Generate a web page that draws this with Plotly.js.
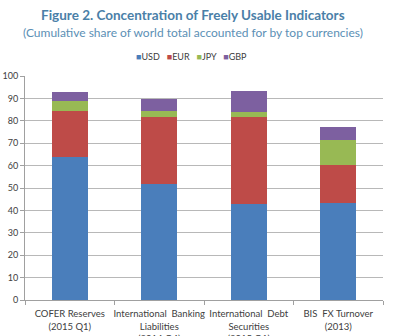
<!DOCTYPE html>
<html><head><meta charset="utf-8">
<script src="https://cdn.plot.ly/plotly-3.0.1.min.js"></script>
<style>body{margin:0;padding:0;background:#fff}#chart{width:393px;height:336px}</style>
</head><body><div id="chart"></div>
<script>
const categories = ["COFER Reserves<br>(2015 Q1)", "International  Banking<br>Liabilities<br>(2014 Q4)", "International  Debt<br>Securities<br>(2015 Q1)", "BIS  FX Turnover<br>(2013)"];
const usd = [64.0, 51.8, 42.9, 43.5];
const eur = [20.5, 29.7, 38.9, 16.6];
const jpy = [4.2, 3.0, 2.0, 11.3];
const gbp = [4.2, 5.4, 9.5, 6.0];
const seriesNames = ["USD", "EUR", "JPY", "GBP"];
const colors = ["#4a7ebb", "#be4b48", "#98b954", "#7d60a0"];
const yTicks = [0,10,20,30,40,50,60,70,80,90,100];

const vals = [usd, eur, jpy, gbp];
const traces = vals.map((v,i)=>({
  type:'bar', x:categories, y:v, name:seriesNames[i],
  marker:{color:colors[i], line:{width:0}}, hoverinfo:'none'
}));

const font = "Lato, Open Sans, sans-serif";
const H = 224; // plot height px
const py = px => 1 + (76 - px)/H; // convert page y pixel to paper coord

const legendText = seriesNames.map((n,i)=>'<span style="color:'+colors[i]+'">■</span>'+n).join('   ');

const layout = {
  width:393, height:336, barmode:'stack', bargap:0.6,
  margin:{l:25, r:10, t:76, b:36},
  paper_bgcolor:'#fff', plot_bgcolor:'#fff',
  font:{family:font, size:9, color:'#404040'},
  showlegend:false,
  xaxis:{type:'category', showgrid:false, showline:true, linecolor:'#a0a0a0', linewidth:1,
    ticks:'outside', tickson:'boundaries', ticklen:4, tickcolor:'#a0a0a0', tickangle:0,
    ticklabelstandoff:5,
    tickfont:{size:9.5, color:'#404040', family:font}, fixedrange:true},
  yaxis:{range:[0,100], tickvals:yTicks, ticktext:yTicks.map(String), showgrid:true, gridcolor:'#b8b8b8', gridwidth:1,
    showline:true, linecolor:'#a0a0a0', ticks:'outside', ticklen:4, tickcolor:'#a0a0a0',
    tickfont:{size:9, color:'#404040', family:font}, zeroline:false, fixedrange:true},
  annotations:[
    {text:'<b>Figure 2. Concentration of Freely Usable Indicators</b>', xref:'paper', yref:'paper', x:(193-25)/358.4, xanchor:'center',
     y:py(15), yanchor:'middle', showarrow:false, font:{size:13.5, color:'#4a80a8', family:font}},
    {text:'(Cumulative share of world total accounted for by top currencies)', xref:'paper', yref:'paper', x:(193-25)/358.4, xanchor:'center',
     y:py(33), yanchor:'middle', showarrow:false, font:{size:12, color:'#5b8fb5', family:font}},
    {text:legendText, xref:'paper', yref:'paper', x:(192-25)/358.4, xanchor:'center',
     y:py(57), yanchor:'middle', showarrow:false, font:{size:9, color:'#404040', family:font}}
  ]
};
Plotly.newPlot('chart', traces, layout, {displayModeBar:false, staticPlot:true});
</script></body></html>
